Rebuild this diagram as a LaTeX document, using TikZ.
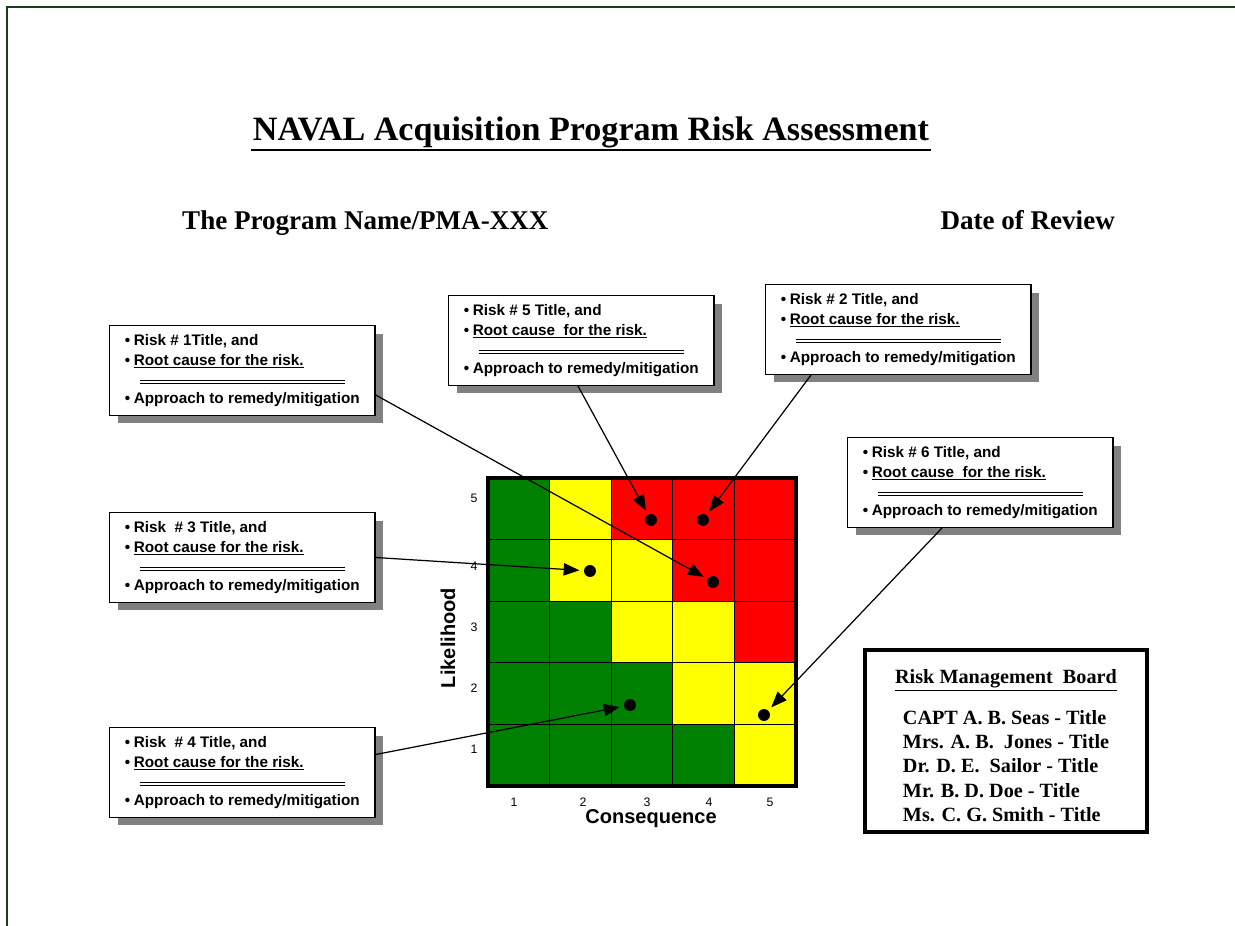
\documentclass[tikz,border=0pt]{standalone}
\usepackage{fontspec}
\setmainfont{Liberation Serif}
\setsansfont{Liberation Sans}
\usepackage{tikz}
\usetikzlibrary{arrows.meta,shadows,calc}
\definecolor{framegreen}{RGB}{22,64,22}
\definecolor{cellgreen}{RGB}{0,128,0}
\definecolor{cellyellow}{RGB}{255,255,0}
\definecolor{cellred}{RGB}{255,0,0}
\newcommand{\bul}{\textbullet\kern2pt}

\begin{document}
\begin{tikzpicture}[x=0.02cm,y=-0.02cm,
riskbox/.style={draw,line width=0.8pt,fill=white,anchor=north west,minimum width=151pt,minimum height=51pt,inner xsep=5pt,align=left,font=\sffamily\bfseries\fontsize{8.7}{11.3}\selectfont,drop shadow={shadow xshift=4.5pt,shadow yshift=-4.5pt,fill=gray,opacity=1}},
dbl/.style={double,line width=0.55pt,double distance=1.1pt},
dot/.style={circle,fill=black,inner sep=0pt,minimum size=6.8pt,outer sep=2.6pt},
pointer/.style={line width=0.7pt,-{Triangle[length=9pt,width=7pt]}},
ticklbl/.style={font=\sffamily\fontsize{7}{8}\selectfont},
axislbl/.style={font=\sffamily\bfseries\fontsize{11.4}{13}\selectfont},
board/.style={align=center,font=\bfseries\fontsize{11.5}{13.8}\selectfont}]
\useasboundingbox (0,0) rectangle (1235,926);
\draw[framegreen,line width=1.7pt] (7,926) -- (7,7) -- (1235,7);

\node[font=\bfseries\fontsize{19.4}{23}\selectfont,anchor=base,inner xsep=1pt] (title) at (591,141)
   {NAVAL Acquisition Program Risk Assessment};
\draw[line width=1.1pt] ($(title.base west)+(0,9)$) -- ($(title.base east)+(0,9)$);
\node[font=\bfseries\fontsize{15.4}{18}\selectfont,anchor=base west] (prog) at (176,230) {The Program Name/PMA-XXX};
\node[font=\bfseries\fontsize{15.4}{18}\selectfont,anchor=base east] (date) at (1121,230) {Date of Review};

% risk matrix
\foreach \c [count=\i from 0] in %
{cellgreen,cellyellow,cellred,cellred,cellred,
 cellgreen,cellyellow,cellyellow,cellred,cellred,
 cellgreen,cellgreen,cellyellow,cellyellow,cellred,
 cellgreen,cellgreen,cellgreen,cellyellow,cellyellow,
 cellgreen,cellgreen,cellgreen,cellgreen,cellyellow} {
   \pgfmathtruncatemacro\col{mod(\i,5)}
   \pgfmathtruncatemacro\row{\i/5}
   \fill[\c] (488+61.6*\col,478+61.6*\row) rectangle ++(61.6,61.6);
}
\foreach \k in {1,...,4} {
   \draw[line width=0.7pt] (488+61.6*\k,478) -- (488+61.6*\k,786);
   \draw[line width=0.7pt] (488,478+61.6*\k) -- (796,478+61.6*\k);
}
\draw[line width=2pt] (488,478) rectangle (796,786);
\foreach \x/\n in {514/1,583/2,647/3,709/4,770/5} {
   \node[ticklbl] (cx\n) at (\x,802) {\n};
}
\foreach \y/\n in {498/5,566/4,627/3,688/2,749/1} {
   \node[ticklbl] (ly\n) at (474,\y) {\n};
}
\node[axislbl,rotate=90] (likely) at (448,638) {Likelihood};
\node[axislbl] (conseq) at (651,819) {Consequence};

\node[dot] (d1) at (713,582) {};
\node[dot] (d2) at (703,520) {};
\node[dot] (d3) at (590,571) {};
\node[dot] (d4) at (630,705) {};
\node[dot] (d5) at (651,520) {};
\node[dot] (d6) at (764,715) {};

% risk boxes
\node[riskbox] (r1) at (109,325) {\bul Risk \# 1Title, and\\
   \bul\underline{Root cause for the risk.}\\[10.5pt]
   \bul Approach to remedy/mitigation};
\node[riskbox] (r5) at (448,295) {\bul Risk \# 5 Title, and\\
   \bul\underline{Root cause\ \ for the risk.}\\[10.5pt]
   \bul Approach to remedy/mitigation};
\node[riskbox] (r2) at (765,284) {\bul Risk \# 2 Title, and\\
   \bul\underline{Root cause for the risk.}\\[10.5pt]
   \bul Approach to remedy/mitigation};
\node[riskbox] (r6) at (847,437) {\bul Risk \# 6 Title, and\\
   \bul\underline{Root cause\ \ for the risk.}\\[10.5pt]
   \bul Approach to remedy/mitigation};
\node[riskbox] (r3) at (109,512) {\bul Risk\ \ \# 3 Title, and\\
   \bul\underline{Root cause for the risk.}\\[10.5pt]
   \bul Approach to remedy/mitigation};
\node[riskbox] (r4) at (109,727) {\bul Risk\ \ \# 4 Title, and\\
   \bul\underline{Root cause for the risk.}\\[10.5pt]
   \bul Approach to remedy/mitigation};
\foreach \b in {r1,r2,r3,r4,r5,r6} {
   \draw[dbl] ($(\b.north west)+(31,57)$) -- ++(205,0);
}

\draw[pointer] ($(r1.south east)+(0,-21)$) -- (d1);
\draw[pointer] ($(r2.south west)+(46,0)$) -- (d2);
\draw[pointer] (r3.east) -- (d3);
\draw[pointer] ($(r4.east)+(0,-18)$) -- (d4);
\draw[pointer] ($(r5.south west)+(130,0)$) -- (d5);
\draw[pointer] ($(r6.south west)+(95,0)$) -- (d6);

\draw[line width=2.3pt] (865,650) rectangle (1147,832);
\node[board] (rmb) at (1006,749) {\underline{Risk Management\ \ Board}\\[8.2pt]
   \begin{tabular}[t]{@{}l@{}}
   CAPT A. B. Seas - Title\\
   Mrs. A. B.\ \ Jones - Title\\
   Dr. D. E.\ \ Sailor - Title\\
   Mr. B. D. Doe - Title\\
   Ms. C. G. Smith - Title
   \end{tabular}};
\end{tikzpicture}
\end{document}
